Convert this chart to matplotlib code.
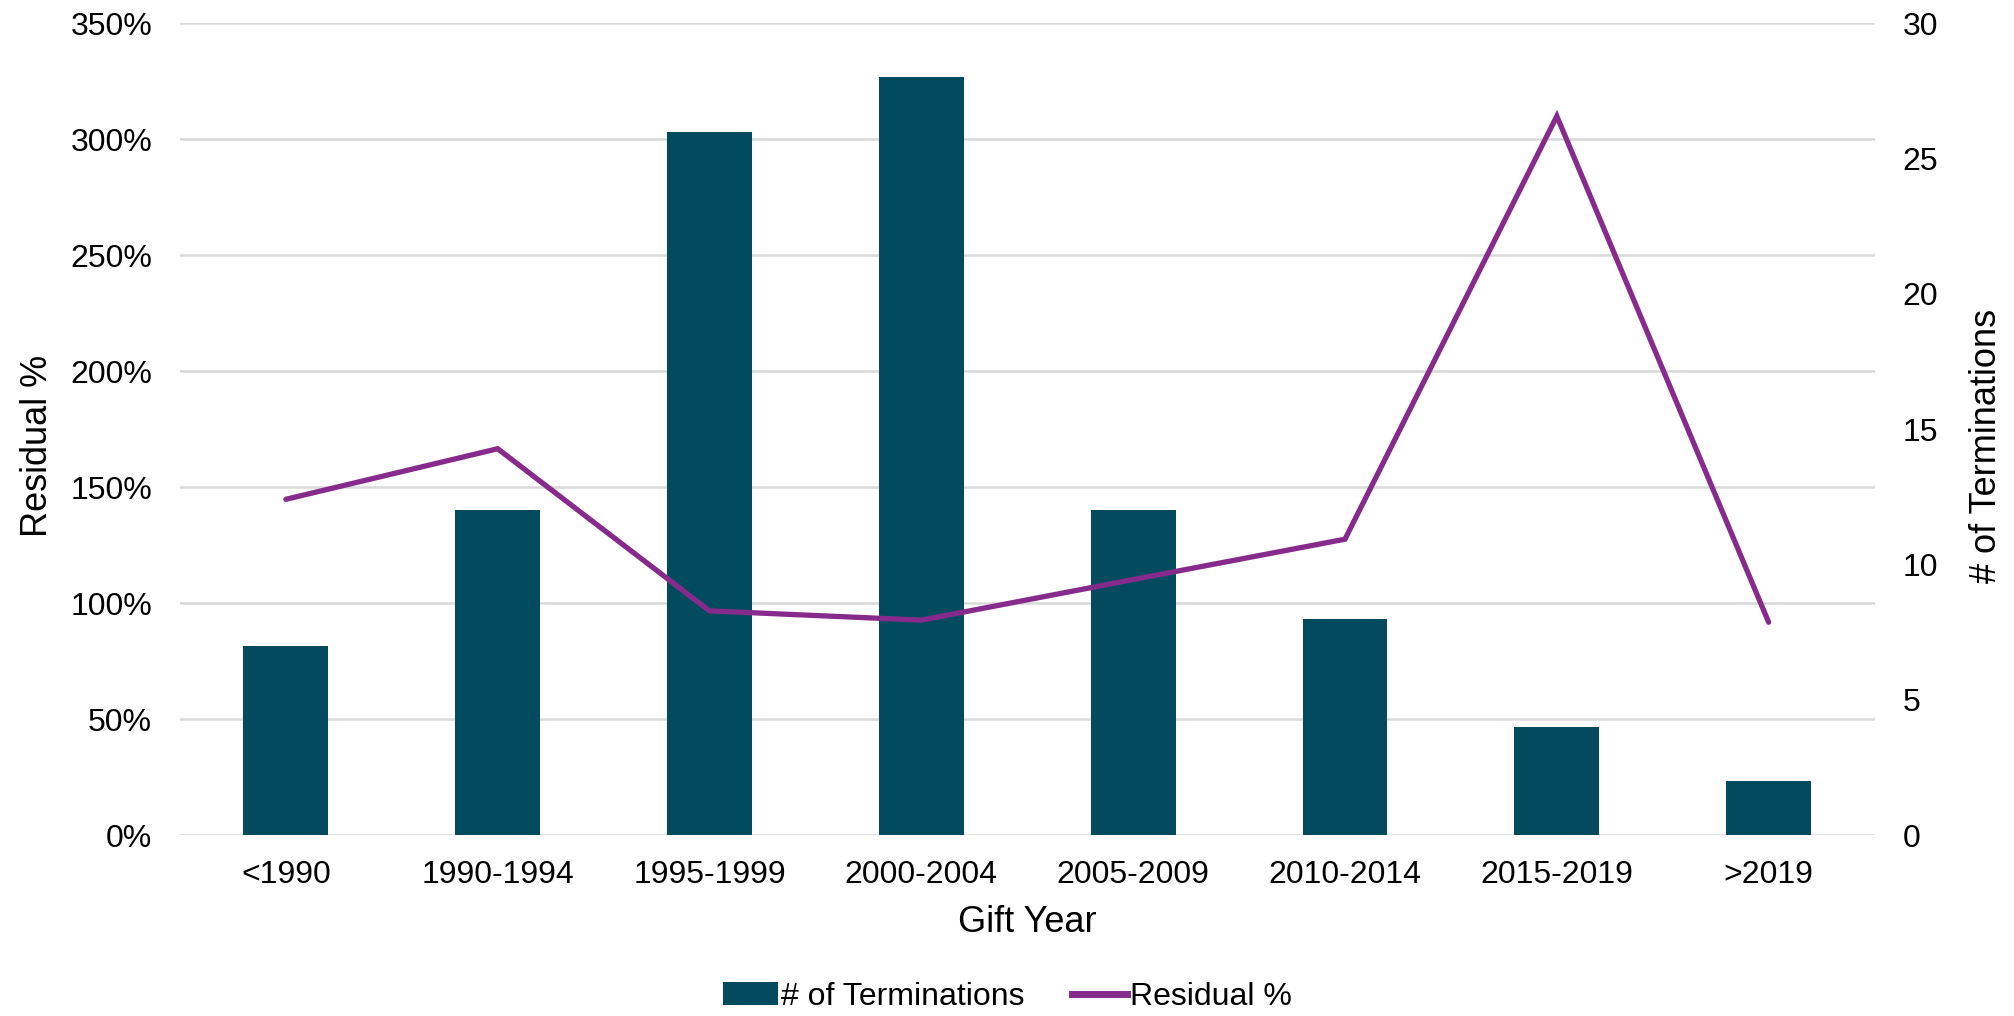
import matplotlib
matplotlib.use("Agg")
import matplotlib.pyplot as plt
from matplotlib.ticker import PercentFormatter, MultipleLocator
from matplotlib.lines import Line2D
from matplotlib.patches import Patch

categories = ["<1990", "1990-1994", "1995-1999", "2000-2004", "2005-2009", "2010-2014", "2015-2019", ">2019"]
terminations = [7, 12, 26, 28, 12, 8, 4, 2]
residual_pct = [1.448, 1.666, 0.967, 0.927, 1.102, 1.276, 3.10, 0.918]

bar_color = "#024B5F"
line_color = "#862A8C"
grid_color = "#D9D9D9"

plt.rcParams["font.family"] = ["Liberation Sans", "DejaVu Sans"]

fig = plt.figure(figsize=(20.15, 10.16), dpi=100)
ax = fig.add_axes([0.0893, 0.178, 0.841, 0.799])
x = list(range(len(categories)))

# base axis: left scale + gridlines
ax.set_ylim(0, 3.5)
ax.set_xlim(-0.5, len(categories) - 0.5)
ax.yaxis.set_major_locator(MultipleLocator(0.5))
ax.yaxis.set_major_formatter(PercentFormatter(xmax=1, decimals=0))
ax.grid(axis="y", color=grid_color, linewidth=1.8)
ax.set_axisbelow(True)
for s in ax.spines.values():
    s.set_visible(False)
ax.tick_params(axis="y", length=0, labelsize=23, colors="black", pad=20)
ax.tick_params(axis="x", length=0, labelsize=23, colors="black", pad=18)
ax.set_xticks(x)
ax.set_xticklabels(categories)
ax.set_ylabel("Residual %", fontsize=26)
ax.yaxis.set_label_coords(-0.074, 0.48)
ax.set_xlabel("Gift Year", fontsize=26, labelpad=11)

# bars on right axis
ax2 = ax.twinx()
ax2.bar(x, terminations, width=0.4, color=bar_color, zorder=2)
ax2.set_ylim(0, 30)
ax2.yaxis.set_major_locator(MultipleLocator(5))
for s in ax2.spines.values():
    s.set_visible(False)
ax2.tick_params(axis="y", length=0, labelsize=23, pad=20)
ax2.set_ylabel("# of Terminations", fontsize=26)
ax2.yaxis.set_label_coords(1.0555, 0.48)

# line on left scale, drawn on top
ax3 = ax.twinx()
ax3.set_ylim(ax.get_ylim())
ax3.plot(x, residual_pct, color=line_color, linewidth=3.8, solid_capstyle="round", solid_joinstyle="miter")
ax3.axis("off")

handles = [Patch(facecolor=bar_color, label="# of Terminations"),
           Line2D([0], [0], color=line_color, linewidth=5, label="Residual %")]
fig.legend(handles=handles, loc="center", bbox_to_anchor=(0.5, 0.019), ncol=2, frameon=False,
           fontsize=23, handlelength=1.7, handletextpad=0.1, columnspacing=1.5)

fig.savefig("out.png", dpi=100)
